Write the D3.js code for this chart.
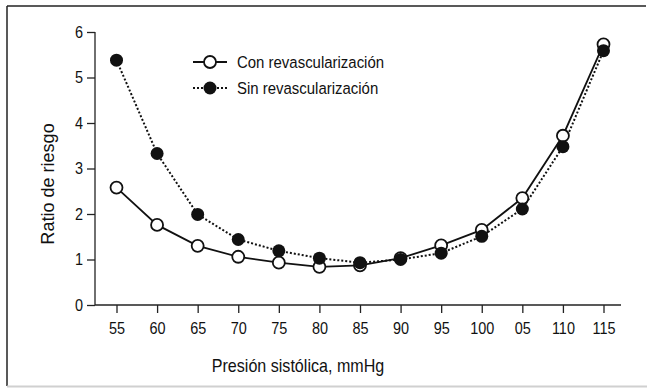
<!DOCTYPE html>
<html>
<head>
<meta charset="utf-8">
<script src="https://cdn.jsdelivr.net/npm/d3@7"></script>
<style>
  body { margin: 0; background: #fff; }
  svg text { font-family: "Liberation Sans", Arial, sans-serif; fill: #111; }
</style>
</head>
<body>
<svg id="chart" width="647" height="389"></svg>
<script>
// datos
const categories = ["55", "60", "65", "70", "75", "80", "85", "90", "95", "100", "05", "110", "115"];
const conRevasc = [2.58, 1.76, 1.30, 1.06, 0.93, 0.84, 0.87, 1.03, 1.31, 1.65, 2.35, 3.72, 5.73];
const sinRevasc = [5.38, 3.33, 1.99, 1.44, 1.19, 1.03, 0.93, 1.00, 1.14, 1.51, 2.11, 3.48, 5.59];
const yTicks = [0, 1, 2, 3, 4, 5, 6];
const seriesNames = ["Con revascularización", "Sin revascularización"];

const svg = d3.select("#chart");
const width = +svg.attr("width");
const height = +svg.attr("height");
let margin = ({top: 32, right: 26, bottom: 84, left: 95});
const narrow = 0.85; // la fuente original es condensada

// marco
svg.append("line").attr("x1", 7).attr("x2", 7).attr("y1", 6).attr("y2", 386)
    .attr("stroke", "#222").attr("stroke-width", 1.5);
svg.append("line").attr("x1", 7).attr("x2", 646).attr("y1", 6).attr("y2", 6)
    .attr("stroke", "#222").attr("stroke-width", 1.5);
svg.append("line").attr("x1", 7).attr("x2", 647).attr("y1", 386.5).attr("y2", 386.5)
    .attr("stroke", "#d0d0d0").attr("stroke-width", 2);

const x = d3.scalePoint()
    .domain(categories)
    .range([116.5, 603.5]);

const y = d3.scaleLinear()
    .domain([0, 6])
    .range([height - margin.bottom, margin.top]);

const xAxis = g => g
    .attr("transform", `translate(0,${y(0)})`)
    .call(d3.axisBottom(x).tickSize(8).tickPadding(6))
    .call(g => g.select(".domain").remove())
    .call(g => g.append("line")
        .attr("stroke", "#222").attr("stroke-width", 1.3)
        .attr("x1", margin.left).attr("x2", width - margin.right));

const yAxis = g => g
    .attr("transform", `translate(${margin.left},0)`)
    .call(d3.axisLeft(y).tickValues(yTicks).tickFormat(d3.format("d")).tickSize(8).tickPadding(4))
    .call(g => g.select(".domain").remove())
    .call(g => g.append("line")
        .attr("stroke", "#222").attr("stroke-width", 1.3)
        .attr("y1", y(6)).attr("y2", y(0)));

svg.append("g").call(xAxis)
    .call(g => g.selectAll(".tick line").attr("stroke", "#222").attr("stroke-width", 1.3))
    .call(g => g.selectAll(".tick text")
        .attr("font-size", 17).attr("fill", "#111")
        .attr("font-family", "'Liberation Sans', Arial, sans-serif")
        .attr("y", 17).attr("dy", "0.71em")
        .attr("transform", `scale(${narrow},1)`));
svg.append("g").call(yAxis)
    .call(g => g.selectAll(".tick text")
        .attr("font-size", 17).attr("fill", "#111")
        .attr("font-family", "'Liberation Sans', Arial, sans-serif")
        .attr("x", -12 / narrow)
        .attr("transform", `scale(${narrow},1)`));
svg.selectAll(".tick line").attr("stroke", "#222").attr("stroke-width", 1.3);

// titulos de ejes
svg.append("text")
    .attr("transform", `translate(298,372) scale(0.92,1)`)
    .attr("text-anchor", "middle")
    .attr("font-size", 17.5)
    .text("Presión sistólica, mmHg");

svg.append("text")
    .attr("transform", `translate(54,${184}) rotate(-90) scale(0.95,1)`)
    .attr("text-anchor", "middle")
    .attr("font-size", 19)
    .text("Ratio de riesgo");

const line = d3.line()
    .x((d, i) => x(categories[i]))
    .y(d => y(d));

// con revascularizacion: linea continua, circulos abiertos
svg.append("path")
    .datum(conRevasc)
    .attr("fill", "none")
    .attr("stroke", "#111")
    .attr("stroke-width", 1.8)
    .attr("d", line);

// sin revascularizacion: linea punteada
svg.append("path")
    .datum(sinRevasc)
    .attr("fill", "none")
    .attr("stroke", "#111")
    .attr("stroke-width", 2)
    .attr("stroke-dasharray", "2,2")
    .attr("d", line);

svg.append("g")
    .selectAll("circle")
    .data(conRevasc)
    .join("circle")
    .attr("cx", (d, i) => x(categories[i]))
    .attr("cy", d => y(d))
    .attr("r", 6)
    .attr("fill", "#fff")
    .attr("stroke", "#111")
    .attr("stroke-width", 1.8);

svg.append("g")
    .selectAll("circle")
    .data(sinRevasc)
    .join("circle")
    .attr("cx", (d, i) => x(categories[i]))
    .attr("cy", d => y(d))
    .attr("r", 6.5)
    .attr("fill", "#111");

// leyenda
const legend = svg.append("g").attr("transform", "translate(193,62)");
const rows = legend.selectAll("g")
    .data(seriesNames)
    .join("g")
    .attr("transform", (d, i) => `translate(0,${i * 26})`);

rows.append("line")
    .attr("x1", 0).attr("x2", 34)
    .attr("stroke", "#111")
    .attr("stroke-width", (d, i) => i ? 2 : 1.8)
    .attr("stroke-dasharray", (d, i) => i ? "2,2" : null);

rows.append("circle")
    .attr("cx", 17)
    .attr("r", (d, i) => i ? 6.5 : 6)
    .attr("fill", (d, i) => i ? "#111" : "#fff")
    .attr("stroke", (d, i) => i ? null : "#111")
    .attr("stroke-width", 1.8);

rows.append("text")
    .attr("transform", "translate(44,0) scale(0.88,1)")
    .attr("dy", "0.35em")
    .attr("font-size", 17)
    .text(d => d);
</script>
</body>
</html>
